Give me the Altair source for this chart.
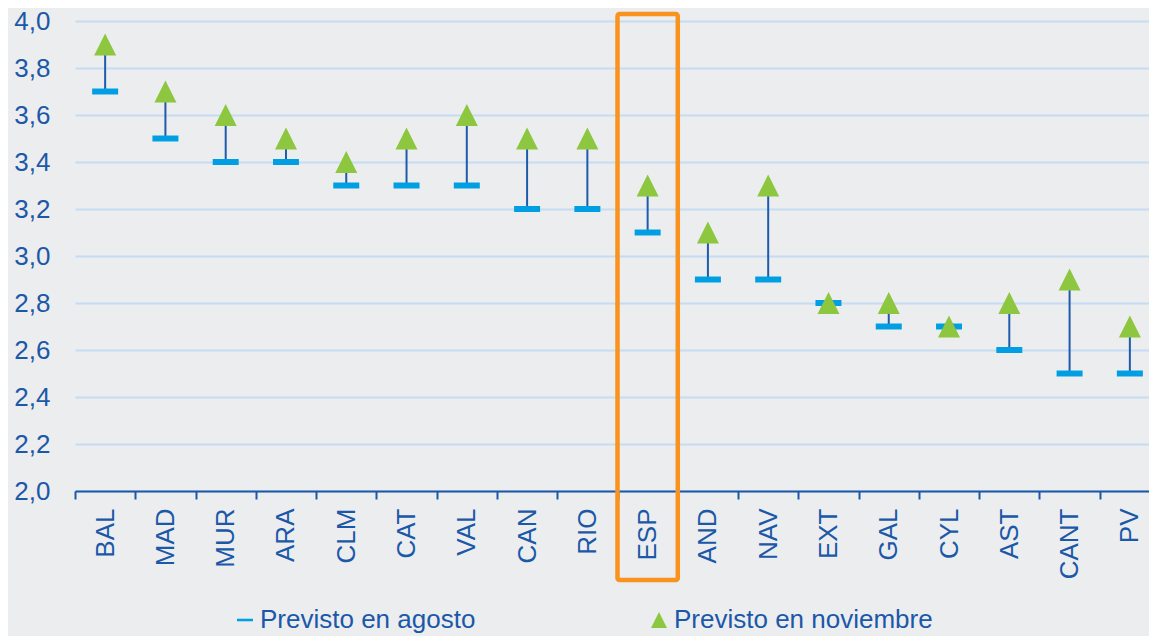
import altair as alt
import pandas as pd

regions = ["BAL", "MAD", "MUR", "ARA", "CLM", "CAT", "VAL", "CAN", "RIO", "ESP",
           "AND", "NAV", "EXT", "GAL", "CYL", "AST", "CANT", "PV"]
agosto = [3.7, 3.5, 3.4, 3.4, 3.3, 3.3, 3.3, 3.2, 3.2, 3.1, 2.9, 2.9, 2.8, 2.7, 2.7, 2.6, 2.5, 2.5]
noviembre = [3.9, 3.7, 3.6, 3.5, 3.4, 3.5, 3.6, 3.5, 3.5, 3.3, 3.1, 3.3, 2.8, 2.8, 2.7, 2.8, 2.9, 2.7]
series = ["Previsto en agosto", "Previsto en noviembre"]
y_ticks = [2.0, 2.2, 2.4, 2.6, 2.8, 3.0, 3.2, 3.4, 3.6, 3.8, 4.0]
highlight = ["ESP"]

BLUE_TXT = "#1B58A8"
BAR_BLUE = "#009FE3"
GREEN = "#8DC63F"
ORANGE = "#F7931E"
GRID = "#C6DBF4"
BG = "#ECEDEF"

wide = pd.DataFrame({"region": regions, "agosto": agosto, "noviembre": noviembre})
df_a = pd.DataFrame({"region": regions, "serie": series[0], "valor": agosto})
df_n = pd.DataFrame({"region": regions, "serie": series[1], "valor": noviembre})
hl = pd.DataFrame({"region": highlight})

x_enc = alt.X("region:N", sort=regions, title=None,
              scale=alt.Scale(paddingInner=0, paddingOuter=0),
              axis=alt.Axis(labelAngle=-90, labelFontSize=26, labelColor=BLUE_TXT,
                            labelFont="Liberation Sans", labelPadding=9,
                            tickBand="extent", tickSize=8, tickWidth=2, tickColor=BLUE_TXT,
                            domainColor=BLUE_TXT, domainWidth=2, grid=False))
y_scale = alt.Scale(domain=[2.0, 4.0], nice=False, zero=False)
y_axis = alt.Axis(values=y_ticks, labelExpr="replace(format(datum.value, '.1f'), '.', ',')",
                  labelFontSize=26, labelColor=BLUE_TXT, labelFont="Liberation Sans",
                  labelPadding=25, ticks=False, tickSize=0, domain=False,
                  grid=True, gridColor=GRID, gridWidth=2, title=None)

legend = alt.Legend(title=None, orient="none", legendX=157, legendY=586,
                    direction="horizontal", columns=2, columnPadding=170,
                    labelFontSize=26, labelColor=BLUE_TXT, labelFont="Liberation Sans",
                    labelLimit=1000, symbolSize=256, symbolStrokeWidth=0, labelOffset=2,
                    padding=0)

color_enc = alt.Color("serie:N", legend=legend,
                      scale=alt.Scale(domain=series, range=[BAR_BLUE, GREEN]))
shape_enc = alt.Shape("serie:N", legend=legend,
                      scale=alt.Scale(domain=series,
                                      range=["M-1,-0.16H1V0.16H-1Z", "M0,-1L1,1L-1,1Z"]))

rules = alt.Chart(wide).mark_rule(color="#1E5BAA", strokeWidth=2).encode(
    x=x_enc,
    y=alt.Y("agosto:Q", scale=y_scale, axis=y_axis),
    y2="noviembre:Q",
)

pts_a = alt.Chart(df_a).mark_point(filled=True, opacity=1, strokeWidth=0, size=676,
                                   shape="M-1,-0.23H1V0.23H-1Z").encode(
    x=alt.X("region:N", sort=regions),
    y=alt.Y("valor:Q", scale=y_scale),
    color=color_enc,
)

pts_n = alt.Chart(df_n).mark_point(filled=True, opacity=1, strokeWidth=0, size=484).encode(
    x=alt.X("region:N", sort=regions),
    y=alt.Y("valor:Q", scale=y_scale),
    color=color_enc,
    shape=shape_enc,
)

box = alt.Chart(hl).mark_rect(filled=False, stroke=ORANGE, strokeWidth=4.5,
                              cornerRadius=2).encode(
    x=alt.X("region:N", sort=regions),
    y=alt.value(-7),
    y2=alt.value(559),
)

chart = alt.layer(rules, pts_a, pts_n, box).properties(
    width=1085, height=470,
    autosize=alt.AutoSizeParams(type="none"),
    padding={"left": 67, "top": 13, "right": -11, "bottom": 145},
    background=BG,
).configure_view(stroke=None)

chart.save("out.html", embed_options={"renderer": "svg", "actions": False})
